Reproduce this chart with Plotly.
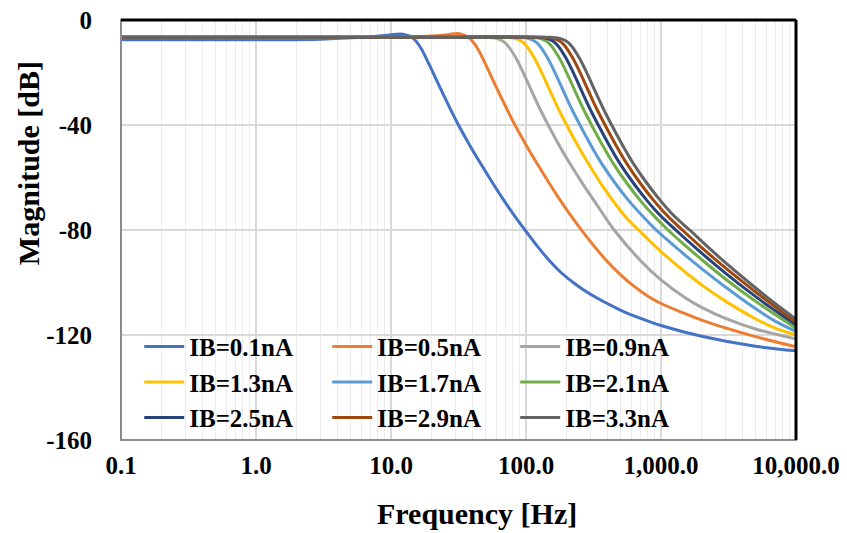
import plotly.graph_objects as go

# ---------------- data ----------------
series_names = ["IB=0.1nA", "IB=0.5nA", "IB=0.9nA", "IB=1.3nA", "IB=1.7nA",
                "IB=2.1nA", "IB=2.5nA", "IB=2.9nA", "IB=3.3nA"]
series_colors = ["#4472C4", "#ED7D31", "#A5A5A5", "#FFC000", "#5B9BD5",
                 "#70AD47", "#264478", "#9E480E", "#636363"]

freq_ib01 = [0.1, 1, 3, 6, 9, 12.3, 14.6, 16.5, 19, 22, 26, 31.6, 38, 46, 56, 68, 82, 100,
             125, 150, 180, 230, 300, 500, 700, 1000, 2000, 5000, 10000]
mag_ib01 = [-7.5, -7.5, -7.3, -6.6, -5.9, -5.4, -7.0, -10.4, -16.5, -23.5, -31.3, -40, -47.4, -54.6, -61.7, -68.4, -74.5, -80.5,
            -87, -91.8, -96, -100.5, -104.5, -110.5, -113.6, -116.4, -120.5, -124.3, -126]

freq_ib05 = [0.1, 10, 20, 26, 32.2, 38.3, 43.2, 49.8, 57.6, 68.1, 82.8, 99.6, 120.5, 146.7, 178, 215, 262,
             330, 400, 500, 600, 800, 1000, 1500, 2000, 3000, 5000, 10000]
mag_ib05 = [-6.6, -6.6, -6.1, -5.6, -5.2, -7.0, -10.4, -16.5, -23.5, -31.3, -40, -47.4, -54.6, -61.7, -68.4, -74.5, -80.5,
            -87, -92, -97, -100.5, -105.2, -108, -111.8, -114.3, -117.3, -120.6, -124.5]

freq_ib09 = [0.1, 10, 50.7, 58.1, 66.7, 73.1, 84.0, 96.5, 110.8, 127.2, 146, 175.5, 211, 266.2, 335.1, 450,
             700, 1000, 1500, 2000, 3000, 5000, 10000]
mag_ib09 = [-6.6, -6.6, -6.6, -6.8, -7.9, -9.7, -14.4, -20.6, -27.4, -34.0, -40, -47.6, -54.6, -62.8, -70.4, -80,
            -91.5, -99, -105.7, -109.5, -113.7, -117.7, -121.5]

freq_ib13 = [0.1, 10, 69.4, 79.6, 91.4, 100.2, 115, 132.2, 151.8, 174.2, 200, 240.4, 289, 364, 458, 563.6, 681,
             1000, 1500, 2000, 3000, 5000, 7000, 10000]
mag_ib13 = [-6.6, -6.6, -6.6, -6.8, -7.9, -9.7, -14.4, -20.6, -27.4, -34.0, -40, -47.6, -54.6, -62.8, -70, -75.8, -80,
            -88.2, -95.9, -100.9, -107.1, -113.8, -117.4, -120]

freq_ib17 = [0.1, 10, 87.1, 99.9, 114.7, 125.8, 144.3, 165.9, 190.5, 218.6, 251, 301.7, 362.7, 456.5, 574.7, 723.5, 920,
             1200, 1500, 2000, 3000, 5000, 7000, 10000]
mag_ib17 = [-6.6, -6.6, -6.6, -6.8, -7.9, -9.7, -14.4, -20.6, -27.4, -34.0, -40, -47.6, -54.6, -62.1, -68.7, -74.5, -80,
            -85.2, -89.5, -94.7, -101.7, -109.9, -114.7, -118.6]

freq_ib21 = [0.1, 10, 106.2, 121.8, 139.8, 153.3, 176, 202.3, 232.3, 266.5, 306, 367.8, 442.2, 556.7, 700.8, 882.3, 1125,
             1500, 2000, 3000, 5000, 7000, 10000]
mag_ib21 = [-6.6, -6.6, -6.6, -6.8, -7.9, -9.7, -14.4, -20.6, -27.4, -34.0, -40, -47.6, -54.6, -62.1, -68.7, -74.5, -80,
            -85.75, -91.25, -98.65, -107.1, -112.2, -117.4]

freq_ib25 = [0.1, 10, 119, 136.5, 156.8, 171.8, 197.2, 226.7, 260.3, 298.8, 343, 412.3, 495.6, 624, 785.6, 989, 1285,
             2000, 3000, 5000, 7000, 10000]
mag_ib25 = [-6.6, -6.6, -6.6, -6.8, -7.9, -9.7, -14.4, -20.6, -27.4, -34.0, -40, -47.6, -54.6, -62.1, -68.7, -74.5, -80,
            -88.8, -96.4, -105.3, -110.7, -116.2]

freq_ib29 = [0.1, 10, 133.6, 153.2, 175.9, 192.9, 221.4, 254.5, 292.2, 335.3, 385, 462.8, 556.3, 700.4, 881.7, 1110, 1440,
             2000, 3000, 5000, 7000, 10000]
mag_ib29 = [-6.6, -6.6, -6.6, -6.8, -7.9, -9.7, -14.4, -20.6, -27.4, -34.0, -40, -47.6, -54.6, -62.1, -68.7, -74.5, -80,
            -86.7, -94.45, -103.55, -109.25, -115.2]

freq_ib33 = [0.1, 10, 149.6, 171.5, 197, 215.9, 247.8, 284.9, 327.1, 375.4, 431, 518, 622.8, 784, 987, 1242.6, 1630,
             2200, 3000, 5000, 7000, 10000]
mag_ib33 = [-6.6, -6.6, -6.6, -6.8, -7.9, -9.7, -14.4, -20.6, -27.4, -34.0, -40, -47.6, -54.6, -62.1, -68.7, -74.5, -80,
            -86.25, -92.45, -102, -108, -114]

x_tick_values = [0.1, 1, 10, 100, 1000, 10000]
x_tick_labels = ["0.1", "1.0", "10.0", "100.0", "1,000.0", "10,000.0"]
y_tick_values = [0, -40, -80, -120, -160]
y_tick_labels = ["0", "-40", "-80", "-120", "-160"]
x_title = "Frequency [Hz]"
y_title = "Magnitude [dB]"

freqs = [freq_ib01, freq_ib05, freq_ib09, freq_ib13, freq_ib17,
         freq_ib21, freq_ib25, freq_ib29, freq_ib33]
mags = [mag_ib01, mag_ib05, mag_ib09, mag_ib13, mag_ib17,
        mag_ib21, mag_ib25, mag_ib29, mag_ib33]

# ---------------- figure ----------------
# The page adds an 8 px body margin, so the figure is 8 px smaller and the
# left/top margins are reduced by 8 px to keep the plot area at the reference spot.
FONT = "Liberation Serif"
fig = go.Figure()
for name, col, fx, my in zip(series_names, series_colors, freqs, mags):
    fig.add_trace(go.Scatter(x=fx, y=my, name=name, mode="lines",
                             line=dict(color=col, width=3, shape="spline", smoothing=1.0)))

minor_vals = [m * d for d in [0.1, 1, 10, 100, 1000] for m in range(2, 10)]

fig.update_layout(
    width=839, height=525,
    margin=dict(l=113, r=51, t=12, b=93, autoexpand=False),
    paper_bgcolor="white", plot_bgcolor="white",
    font=dict(family=FONT, color="black", size=25, weight=700),
    showlegend=True,
    legend=dict(orientation="h", x=0.027, y=0.277, xanchor="left", yanchor="top",
                bgcolor="rgba(0,0,0,0)", entrywidth=133, entrywidthmode="pixels",
                font=dict(family=FONT, size=25, weight=700, color="black"),
                itemwidth=40, tracegroupgap=0),
    xaxis=dict(type="log", range=[-1, 4], tickmode="array",
               tickvals=x_tick_values, ticktext=x_tick_labels,
               showgrid=True, gridcolor="#d9d9d9", gridwidth=1.5,
               minor=dict(tickmode="array", tickvals=minor_vals, showgrid=True,
                          gridcolor="#ececec", gridwidth=1),
               zeroline=False, showline=False, ticks="", automargin=False,
               ticklabelstandoff=8, ticklabeloverflow="allow",
               tickfont=dict(family=FONT, size=25, weight=700)),
    yaxis=dict(range=[-160, 0], tickmode="array",
               tickvals=y_tick_values, ticktext=y_tick_labels,
               showgrid=True, gridcolor="#d9d9d9", gridwidth=1.5,
               zeroline=False, showline=False, ticks="", automargin=False,
               ticklabelstandoff=28, ticklabeloverflow="allow",
               tickfont=dict(family=FONT, size=25, weight=700)),
)

# axis titles as text annotations placed like the reference
fig.add_annotation(text=x_title, xref="paper", yref="paper", x=0.527, y=-0.174,
                   xanchor="center", yanchor="middle", showarrow=False,
                   font=dict(family=FONT, size=30, weight=700, color="black"))
fig.add_annotation(text=y_title, xref="paper", yref="paper", x=-0.137, y=0.658,
                   xanchor="center", yanchor="middle", showarrow=False, textangle=-90,
                   font=dict(family=FONT, size=30, weight=700, color="black"))

# plot-area frame: grey left/bottom, black top/right
fig.add_shape(type="rect", xref="paper", yref="paper", x0=0, y0=0, x1=1, y1=1,
              line=dict(color="#8c8c8c", width=2), layer="above")
fig.add_shape(type="line", xref="paper", yref="paper", x0=0, y0=1, x1=1, y1=1,
              line=dict(color="black", width=3), layer="above")
fig.add_shape(type="line", xref="paper", yref="paper", x0=1, y0=0, x1=1, y1=1,
              line=dict(color="black", width=3), layer="above")

fig.write_html("out.html")
